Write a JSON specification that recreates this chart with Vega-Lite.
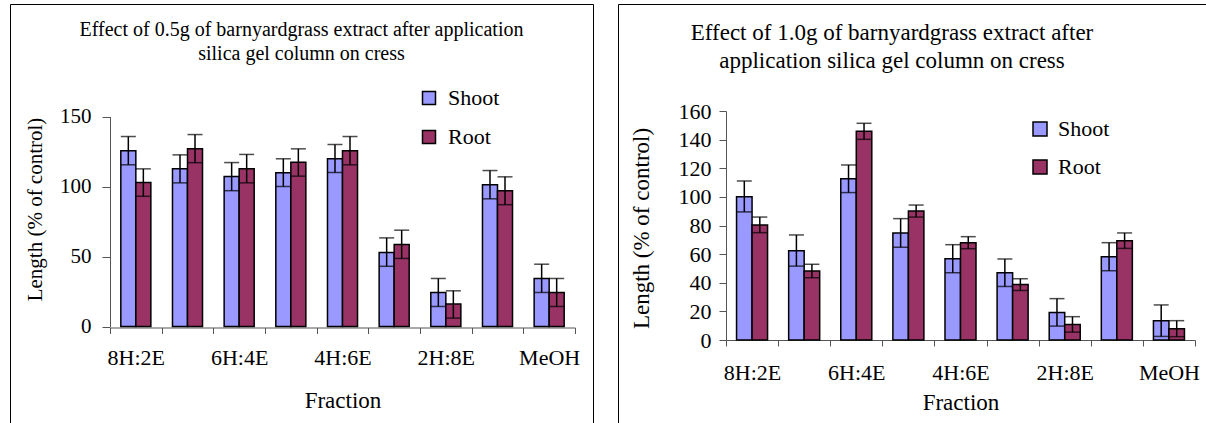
{
  "$schema": "https://vega.github.io/schema/vega-lite/v6.json",
  "padding": {"left": 9, "top": 3, "right": 0, "bottom": 0},
  "background": "white",
  "spacing": 25,
  "bounds": "flush",
  "resolve": {
    "scale": {"color": "independent", "x": "independent", "y": "independent", "xOffset": "independent"},
    "legend": {"color": "independent"}
  },
  "config": {
    "view": {"stroke": "black", "strokeWidth": 1},
    "font": "Liberation Serif",
    "axis": {
      "grid": false,
      "domainColor": "#555",
      "tickColor": "#555",
      "labelColor": "black",
      "titleColor": "black",
      "titleFontWeight": "normal",
      "labelFont": "Liberation Serif",
      "titleFont": "Liberation Serif"
    },
    "axisX": {"labelFont": "Liberation Serif", "titleFont": "Liberation Serif"},
    "axisY": {"labelFont": "Liberation Serif", "titleFont": "Liberation Serif"},
    "legend": {"labelFont": "Liberation Serif", "labelColor": "black"},
    "title": {"font": "Liberation Serif", "fontWeight": "normal", "color": "black"}
  },
  "datasets": {
    "half": [
      {"fraction": "8H:2E", "part": "Shoot", "value": 125.5, "lo": 115.5, "hi": 135.7},
      {"fraction": "8H:2E", "part": "Root", "value": 102.9, "lo": 93, "hi": 112.6},
      {"fraction": "7H:3E", "part": "Shoot", "value": 112.6, "lo": 102.6, "hi": 122.6},
      {"fraction": "7H:3E", "part": "Root", "value": 126.9, "lo": 117, "hi": 137.1},
      {"fraction": "6H:4E", "part": "Shoot", "value": 107.1, "lo": 97, "hi": 117.1},
      {"fraction": "6H:4E", "part": "Root", "value": 112.6, "lo": 102.6, "hi": 122.9},
      {"fraction": "5H:5E", "part": "Shoot", "value": 109.8, "lo": 100, "hi": 119.8},
      {"fraction": "5H:5E", "part": "Root", "value": 117.4, "lo": 107.4, "hi": 126.9},
      {"fraction": "4H:6E", "part": "Shoot", "value": 119.8, "lo": 110, "hi": 130},
      {"fraction": "4H:6E", "part": "Root", "value": 125.5, "lo": 115.5, "hi": 135.7},
      {"fraction": "3H:7E", "part": "Shoot", "value": 52.9, "lo": 43, "hi": 63.3},
      {"fraction": "3H:7E", "part": "Root", "value": 58.6, "lo": 48.6, "hi": 68.8},
      {"fraction": "2H:8E", "part": "Shoot", "value": 24.3, "lo": 14.3, "hi": 34.3},
      {"fraction": "2H:8E", "part": "Root", "value": 16, "lo": 6, "hi": 25.5},
      {"fraction": "1H:9E", "part": "Shoot", "value": 101.2, "lo": 91.2, "hi": 111.4},
      {"fraction": "1H:9E", "part": "Root", "value": 96.9, "lo": 87, "hi": 106.9},
      {"fraction": "MeOH", "part": "Shoot", "value": 34.3, "lo": 24.3, "hi": 44.5},
      {"fraction": "MeOH", "part": "Root", "value": 24.3, "lo": 14.3, "hi": 34.3}
    ],
    "one": [
      {"fraction": "8H:2E", "part": "Shoot", "value": 100.1, "lo": 89.5, "hi": 111.1},
      {"fraction": "8H:2E", "part": "Root", "value": 80.3, "lo": 75, "hi": 85.9},
      {"fraction": "7H:3E", "part": "Shoot", "value": 62.4, "lo": 51.6, "hi": 73.4},
      {"fraction": "7H:3E", "part": "Root", "value": 48.2, "lo": 43.5, "hi": 52.9},
      {"fraction": "6H:4E", "part": "Shoot", "value": 112.7, "lo": 103, "hi": 122.3},
      {"fraction": "6H:4E", "part": "Root", "value": 145.8, "lo": 140.2, "hi": 151.4},
      {"fraction": "5H:5E", "part": "Shoot", "value": 74.8, "lo": 64.8, "hi": 84.8},
      {"fraction": "5H:5E", "part": "Root", "value": 90.1, "lo": 85.9, "hi": 94.3},
      {"fraction": "4H:6E", "part": "Shoot", "value": 56.8, "lo": 47, "hi": 66.6},
      {"fraction": "4H:6E", "part": "Root", "value": 68, "lo": 63.8, "hi": 72.2},
      {"fraction": "3H:7E", "part": "Shoot", "value": 47, "lo": 37.4, "hi": 56.6},
      {"fraction": "3H:7E", "part": "Root", "value": 38.7, "lo": 34.6, "hi": 42.8},
      {"fraction": "2H:8E", "part": "Shoot", "value": 19.3, "lo": 9.7, "hi": 28.9},
      {"fraction": "2H:8E", "part": "Root", "value": 10.9, "lo": 5.5, "hi": 16.3},
      {"fraction": "1H:9E", "part": "Shoot", "value": 58.2, "lo": 48.4, "hi": 68},
      {"fraction": "1H:9E", "part": "Root", "value": 69.4, "lo": 64, "hi": 74.8},
      {"fraction": "MeOH", "part": "Shoot", "value": 13.5, "lo": 2.5, "hi": 24.5},
      {"fraction": "MeOH", "part": "Root", "value": 7.9, "lo": 2.3, "hi": 13.5}
    ]
  },
  "hconcat": [
    {
      "width": 583,
      "height": 427,
      "data": {"name": "half"},
      "title": {
        "text": ["Effect of 0.5g of barnyardgrass extract after application", "silica gel column on cress"],
        "font": "Liberation Serif",
        "fontSize": 20,
        "lineHeight": 24,
        "baseline": "alphabetic",
        "offset": -76,
        "anchor": "middle",
        "frame": "group"
      },
      "encoding": {
        "x": {
          "field": "fraction",
          "type": "nominal",
          "sort": ["8H:2E", "7H:3E", "6H:4E", "5H:5E", "4H:6E", "3H:7E", "2H:8E", "1H:9E", "MeOH"],
          "scale": {"range": [100, 565], "paddingInner": 0, "paddingOuter": 0},
          "axis": {
            "title": "Fraction",
            "orient": "bottom",
            "offset": -103.5,
            "tickBand": "extent",
            "labelExpr": "indexof(['8H:2E','6H:4E','4H:6E','2H:8E','MeOH'], datum.value) >= 0 ? datum.label : ''",
            "labelAngle": 0,
            "labelOverlap": false,
            "labelFont": "Liberation Serif",
            "titleFont": "Liberation Serif",
            "labelFontSize": 22,
            "labelPadding": 14,
            "tickSize": 6,
            "titleFontSize": 23,
            "titleY": 80,
            "titleBaseline": "alphabetic"
          }
        },
        "xOffset": {
          "field": "part",
          "type": "nominal",
          "sort": ["Shoot", "Root"],
          "scale": {"paddingOuter": 0.72, "paddingInner": 0}
        }
      },
      "layer": [
        {
          "mark": {"type": "bar", "stroke": "black", "strokeWidth": 1.5},
          "encoding": {
            "y": {
              "field": "value",
              "type": "quantitative",
              "title": "Length (% of control)",
              "scale": {"domain": [0, 150], "range": [322.5, 112.5], "nice": false},
              "axis": {
                "offset": -100,
                "values": [0, 50, 100, 150],
                "tickSize": 8,
                "labelPadding": 11,
                "labelFont": "Liberation Serif",
                "titleFont": "Liberation Serif",
                "labelFontSize": 21,
                "titleFontSize": 21,
                "titleAngle": 270,
                "titleX": -75,
                "titleY": 205,
                "titleBaseline": "middle",
                "titleAlign": "center"
              }
            },
            "color": {
              "field": "part",
              "type": "nominal",
              "sort": ["Shoot", "Root"],
              "scale": {"domain": ["Shoot", "Root"], "range": ["#9999FF", "#993366"]},
              "legend": {
                "orient": "none",
                "legendX": 408,
                "legendY": 83,
                "direction": "vertical",
                "title": null,
                "symbolType": "square",
                "symbolSize": 169,
                "symbolStrokeColor": "black",
                "symbolStrokeWidth": 1.5,
                "labelFont": "Liberation Serif",
                "labelFontSize": 22,
                "labelOffset": 8,
                "rowPadding": 17,
                "padding": 0
              }
            }
          }
        },
        {
          "mark": {"type": "rule", "color": "black", "strokeWidth": 1.5},
          "encoding": {
            "y": {"field": "lo", "type": "quantitative", "title": "Length (% of control)"},
            "y2": {"field": "hi"}
          }
        },
        {
          "mark": {"type": "tick", "color": "black", "size": 15, "thickness": 1.5},
          "encoding": {
            "y": {"field": "lo", "type": "quantitative", "title": "Length (% of control)"}
          }
        },
        {
          "mark": {"type": "tick", "color": "black", "size": 15, "thickness": 1.5},
          "encoding": {
            "y": {"field": "hi", "type": "quantitative", "title": "Length (% of control)"}
          }
        }
      ]
    },
    {
      "width": 600,
      "height": 427,
      "data": {"name": "one"},
      "title": {
        "text": ["Effect of 1.0g of barnyardgrass extract after", "application silica gel column on cress"],
        "font": "Liberation Serif",
        "fontSize": 23,
        "lineHeight": 28.5,
        "baseline": "alphabetic",
        "offset": -87,
        "anchor": "middle",
        "dx": -26,
        "frame": "group"
      },
      "encoding": {
        "x": {
          "field": "fraction",
          "type": "nominal",
          "sort": ["8H:2E", "7H:3E", "6H:4E", "5H:5E", "4H:6E", "3H:7E", "2H:8E", "1H:9E", "MeOH"],
          "scale": {"range": [108, 577], "paddingInner": 0, "paddingOuter": 0},
          "axis": {
            "title": "Fraction",
            "orient": "bottom",
            "offset": -91,
            "tickBand": "extent",
            "labelExpr": "indexof(['8H:2E','6H:4E','4H:6E','2H:8E','MeOH'], datum.value) >= 0 ? datum.label : ''",
            "labelAngle": 0,
            "labelOverlap": false,
            "labelFont": "Liberation Serif",
            "titleFont": "Liberation Serif",
            "labelFontSize": 22,
            "labelPadding": 16,
            "tickSize": 6,
            "titleFontSize": 23,
            "titleY": 69,
            "titleBaseline": "alphabetic"
          }
        },
        "xOffset": {
          "field": "part",
          "type": "nominal",
          "sort": ["Shoot", "Root"],
          "scale": {"paddingOuter": 0.68, "paddingInner": 0}
        }
      },
      "layer": [
        {
          "mark": {"type": "bar", "stroke": "black", "strokeWidth": 1.5},
          "encoding": {
            "y": {
              "field": "value",
              "type": "quantitative",
              "title": "Length (% of control)",
              "scale": {"domain": [0, 160], "range": [336, 107], "nice": false},
              "axis": {
                "offset": -108,
                "values": [0, 20, 40, 60, 80, 100, 120, 140, 160],
                "tickSize": 7,
                "labelPadding": 8,
                "labelFont": "Liberation Serif",
                "titleFont": "Liberation Serif",
                "labelFontSize": 22,
                "titleFontSize": 23,
                "titleAngle": 270,
                "titleX": -85,
                "titleY": 224,
                "titleBaseline": "middle",
                "titleAlign": "center"
              }
            },
            "color": {
              "field": "part",
              "type": "nominal",
              "sort": ["Shoot", "Root"],
              "scale": {"domain": ["Shoot", "Root"], "range": ["#9999FF", "#993366"]},
              "legend": {
                "orient": "none",
                "legendX": 411,
                "legendY": 114,
                "direction": "vertical",
                "title": null,
                "symbolType": "square",
                "symbolSize": 196,
                "symbolStrokeColor": "black",
                "symbolStrokeWidth": 1.5,
                "labelFont": "Liberation Serif",
                "labelFontSize": 22,
                "labelOffset": 7,
                "rowPadding": 16,
                "padding": 0
              }
            }
          }
        },
        {
          "mark": {"type": "rule", "color": "black", "strokeWidth": 1.5},
          "encoding": {
            "y": {"field": "lo", "type": "quantitative", "title": "Length (% of control)"},
            "y2": {"field": "hi"}
          }
        },
        {
          "mark": {"type": "tick", "color": "black", "size": 15, "thickness": 1.5},
          "encoding": {
            "y": {"field": "lo", "type": "quantitative", "title": "Length (% of control)"}
          }
        },
        {
          "mark": {"type": "tick", "color": "black", "size": 15, "thickness": 1.5},
          "encoding": {
            "y": {"field": "hi", "type": "quantitative", "title": "Length (% of control)"}
          }
        }
      ]
    }
  ]
}
